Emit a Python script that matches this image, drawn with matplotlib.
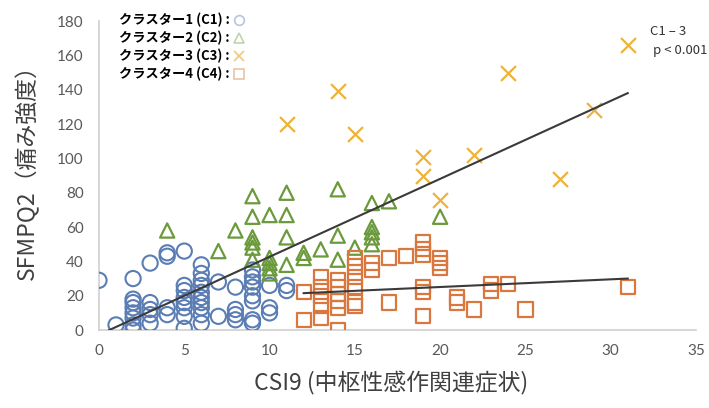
'''Scatter of SFMPQ2 vs CSI9 by cluster'''
import matplotlib
matplotlib.use('Agg')
import matplotlib.pyplot as plt

plt.rcParams['font.family'] = ['Noto Sans CJK JP', 'DejaVu Sans']

# cluster 1 (circles)
c1_x = [0, 1, 2, 2, 2, 2, 2, 2, 2, 2, 3, 3, 3, 3, 3, 4, 4, 4, 4,
        5, 5, 5, 5, 5, 5, 5, 5, 6, 6, 6, 6, 6, 6, 6, 6, 6, 6,
        7, 7, 8, 8, 8, 8, 9, 9, 9, 9, 9, 9, 9, 9, 10, 10, 10, 11, 11]
c1_y = [29, 3, 30, 18, 16, 13, 10, 7, 3, 0, 39, 16, 12, 9, 4, 45, 43, 13, 9,
        46, 26, 23, 19, 16, 13, 8, 1, 38, 33, 29, 26, 22, 19, 16, 13, 9, 4,
        28, 8, 25, 12, 9, 6, 35, 31, 28, 25, 20, 17, 6, 4, 26, 13, 10, 26, 23]

# cluster 2 (triangles)
c2_x = [4, 7, 8, 9, 9, 9, 9, 9, 9, 10, 10, 10, 10, 10, 11, 11, 11, 11,
        12, 12, 13, 14, 14, 14, 15, 16, 16, 16, 16, 16, 17, 20]
c2_y = [58, 46, 58, 78, 66, 54, 51, 48, 41, 67, 42, 39, 36, 33, 80, 67, 54, 38,
        45, 42, 47, 82, 55, 41, 48, 74, 60, 57, 54, 50, 75, 66]

# cluster 3 (crosses)
c3_x = [11, 14, 15, 19, 19, 20, 22, 24, 27, 29, 31]
c3_y = [120, 139, 114, 101, 90, 76, 102, 150, 88, 128, 166]

# cluster 4 (squares)
c4_x = [12, 12, 13, 13, 13, 13, 13, 14, 14, 14, 14, 14, 14,
        15, 15, 15, 15, 15, 15, 16, 16, 17, 17, 18,
        19, 19, 19, 19, 19, 19, 20, 20, 20, 21, 21, 22, 23, 23, 24, 25, 31]
c4_y = [22, 6, 31, 25, 20, 14, 7, 29, 25, 21, 17, 13, 0,
        42, 37, 31, 25, 16, 14, 39, 35, 42, 16, 43,
        51, 47, 44, 25, 22, 8, 42, 39, 36, 19, 16, 12, 27, 23, 27, 12, 25]

# trend lines (end points)
trend13_x = [0.6, 31]
trend13_y = [0, 138]
trend4_x = [12, 31]
trend4_y = [21.5, 30]

labels = ['クラスター1 (C1) :', 'クラスター2 (C2) :', 'クラスター3 (C3) :', 'クラスター4 (C4) :']

BLUE = '#5a7db4'
GREEN = '#6b9a3c'
YELLOW = '#eeb23a'
ORANGE = '#d9773f'

fig = plt.figure(figsize=(7.09, 4.08), dpi=100)
ax = fig.add_axes([0.1396, 0.191, 0.842, 0.7575])

ax.scatter(c1_x, c1_y, s=120, marker='o', facecolors='none', edgecolors=BLUE, linewidths=1.5, zorder=3)
ax.scatter(c2_x, c2_y, s=105, marker='^', facecolors='none', edgecolors=GREEN, linewidths=1.6, zorder=3)
ax.scatter(c3_x, c3_y, s=115, marker='x', color=YELLOW, linewidths=1.6, zorder=3)
ax.scatter(c4_x, c4_y, s=105, marker='s', facecolors='none', edgecolors=ORANGE, linewidths=1.6, zorder=3)

ax.plot(trend13_x, trend13_y, color='#3a3a3a', lw=1.5, zorder=4)
ax.plot(trend4_x, trend4_y, color='#3a3a3a', lw=1.5, zorder=4)

ax.set_xlim(0, 35)
ax.set_ylim(0, 180)
ax.set_xticks(range(0, 36, 5))
ax.set_yticks(range(0, 181, 20))

for side in ['top', 'right']:
    ax.spines[side].set_visible(False)
for side in ['left', 'bottom']:
    ax.spines[side].set_color('#d0d0d0')
    ax.spines[side].set_linewidth(1.2)
ax.tick_params(length=0, labelsize=11, labelcolor='#595959')
ax.tick_params(axis='x', pad=10)
ax.tick_params(axis='y', pad=11)
for lab in ax.get_xticklabels() + ax.get_yticklabels():
    lab.set_family(['Lato', 'DejaVu Sans'])

ax.set_xlabel('CSI9 (中枢性感作関連症状)', fontsize=16.5, color='#404040')
ax.xaxis.set_label_coords(0.49, -0.135)
ax.set_ylabel('SFMPQ2（痛み強度）', fontsize=16.5, color='#404040')
ax.yaxis.set_label_coords(-0.1, 0.53)

# legend: text first, marker after
handles = [
    plt.Line2D([], [], ls='none', marker='o', ms=7, mfc='none', mec='#b8c4dc', mew=1.2),
    plt.Line2D([], [], ls='none', marker='^', ms=7, mfc='none', mec='#c2d2ae', mew=1.2),
    plt.Line2D([], [], ls='none', marker='x', ms=7, color='#f0c878', mew=1.2),
    plt.Line2D([], [], ls='none', marker='s', ms=7, mfc='none', mec='#e8c2aa', mew=1.2),
]
leg = fig.legend(handles, labels, loc='upper left', bbox_to_anchor=(0.158, 0.985),
                 markerfirst=False, frameon=False, handlelength=0.8, handletextpad=0.3,
                 labelspacing=0.28, borderpad=0, prop={'size': 9.5, 'weight': 'bold'})

fig.text(0.917, 0.915, 'C1 – 3', fontsize=9.5, color='#333333')
fig.text(0.921, 0.868, 'p < 0.001', fontsize=9.5, color='#333333')

fig.savefig('out.png', dpi=100)
